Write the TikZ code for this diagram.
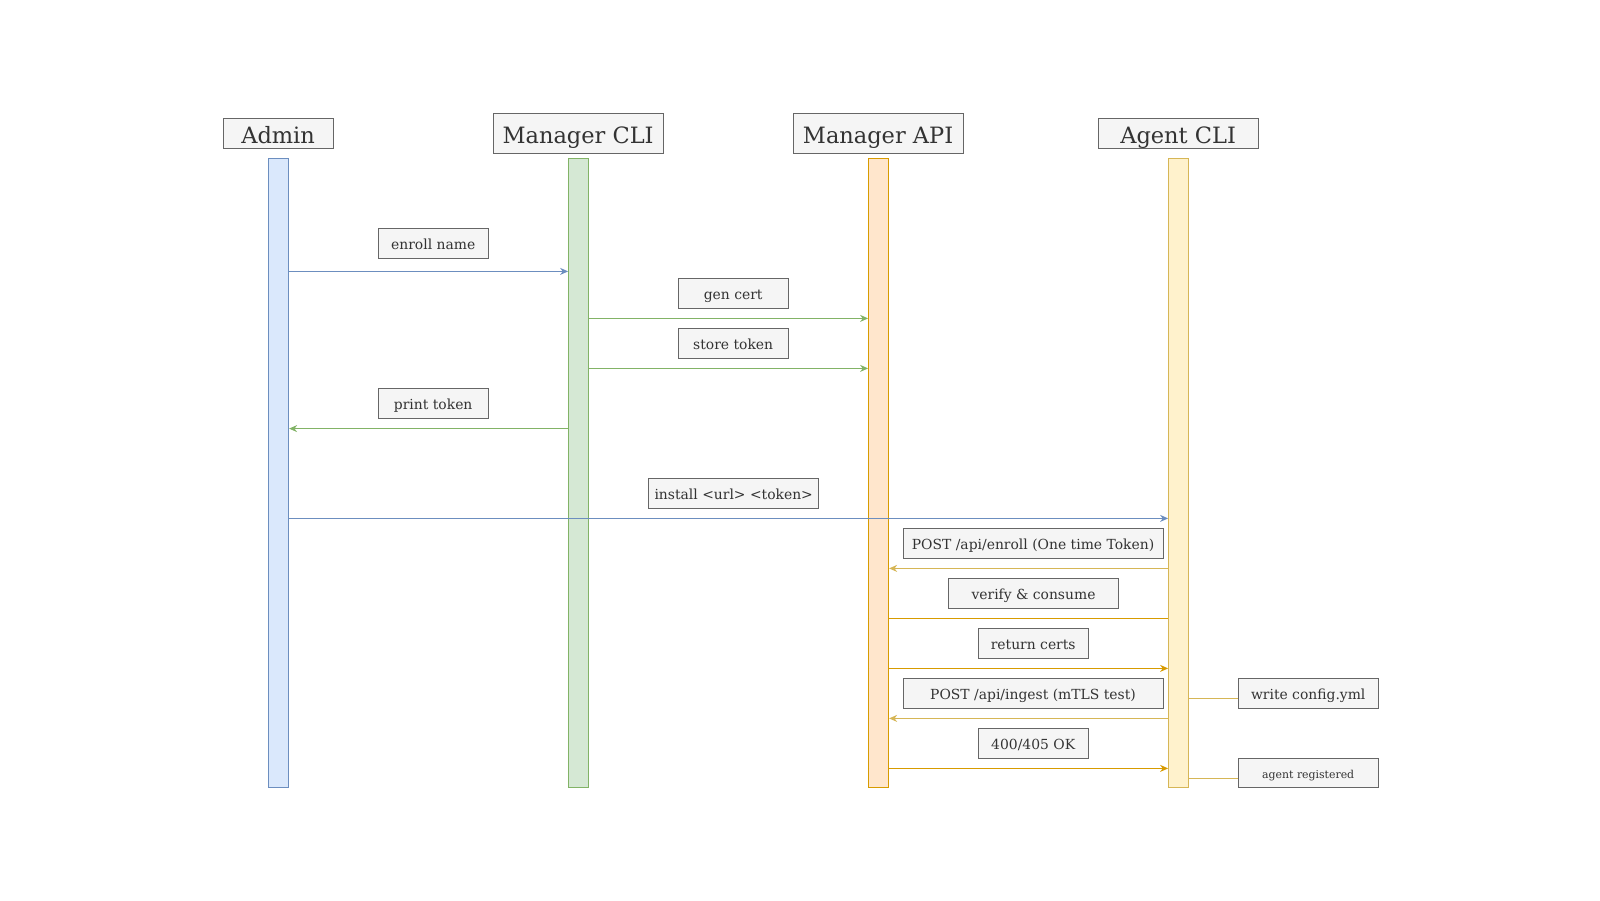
\documentclass[tikz,border=0pt]{standalone}
\usepackage{fontspec}
\setmainfont{DejaVu Serif}
\usetikzlibrary{arrows.meta, positioning}
\definecolor{bluefill}{HTML}{DAE8FC}
\definecolor{blueline}{HTML}{6C8EBF}
\definecolor{greenfill}{HTML}{D5E8D4}
\definecolor{greenline}{HTML}{82B366}
\definecolor{orangefill}{HTML}{FFE6CC}
\definecolor{orangeline}{HTML}{D79B00}
\definecolor{yellowfill}{HTML}{FFF2CC}
\definecolor{yellowline}{HTML}{D6B656}
\definecolor{boxfill}{HTML}{F5F5F5}
\definecolor{boxline}{HTML}{666666}
\definecolor{inktext}{HTML}{333333}
\tikzset{
  >=Stealth,
  head/.style={
    draw=boxline, fill=boxfill, text=inktext, line width=1pt, inner sep=0pt,
    text height=21pt, text depth=1pt,
    minimum width=#1, font=\fontsize{22.5}{27}\selectfont
  },
  lifebar/.style 2 args={
    draw=#2, fill=#1, line width=1pt, inner sep=0pt,
    minimum width=20pt, minimum height=629.6pt
  },
  msgbox/.style={
    draw=boxline, fill=boxfill, text=inktext, line width=1pt, inner sep=0pt,
    text height=13.5pt, text depth=1pt,
    minimum width=#1, minimum height=29.6pt, font=\fontsize{13.9}{17}\selectfont
  },
  msg/.style={draw=#1, line width=1pt, -{Stealth[length=8pt,width=7pt]}},
  plainline/.style={draw=#1, line width=1pt}
}
\begin{document}
\begin{tikzpicture}[x=1pt,y=1pt]
  \useasboundingbox[fill=white] (0,0) rectangle (1600,-900);
  % participants
  \node[head=110pt, minimum height=30pt] (admin) at (278.1,-133.2) {Admin};
  \node[head=170pt, minimum height=40pt] (mcli) at (578.1,-133.2) {Manager CLI};
  \node[head=170pt, minimum height=40pt] (mapi) at (878.1,-133.2) {Manager API};
  \node[head=160pt, minimum height=30pt] (acli) at (1178.1,-133.2) {Agent CLI};
  % lifelines
  \node[lifebar={bluefill}{blueline}] (adminbar) at (278.6,-473) {};
  \node[lifebar={greenfill}{greenline}] (mclibar) at (578.6,-473) {};
  \node[lifebar={orangefill}{orangeline}] (mapibar) at (878.6,-473) {};
  \node[lifebar={yellowfill}{yellowline}] (aclibar) at (1178.6,-473) {};
  % message rows
  \coordinate (m1) at (0,-271.4);
  \coordinate (m2) at (0,-318.4);
  \coordinate (m3) at (0,-368.4);
  \coordinate (m4) at (0,-428.6);
  \coordinate (m5) at (0,-518.4);
  \coordinate (m6) at (0,-568.4);
  \coordinate (m7) at (0,-618.4);
  \coordinate (m8) at (0,-668.4);
  \coordinate (m9) at (0,-718.4);
  \coordinate (m10) at (0,-768.4);
  \coordinate (n1) at (0,-698.2);
  \coordinate (n2) at (0,-778.4);
  % labels
  \node[msgbox=110pt] (enroll) at (433.2,-243.4) {enroll name};
  \node[msgbox=110pt] (gencert) at (733.2,-293.4) {gen cert};
  \node[msgbox=110pt] (store) at (733.2,-343.4) {store token};
  \node[msgbox=110pt] (print) at (433.2,-403.6) {print token};
  \node[msgbox=170pt] (install) at (733.7,-493.4) {install <url> <token>};
  \node[msgbox=260pt] (postenroll) at (1033,-543.4) {POST /api/enroll (One time Token)};
  \node[msgbox=170pt] (verify) at (1033.5,-593.4) {verify \& consume};
  \node[msgbox=110pt] (certs) at (1033.2,-643.4) {return certs};
  \node[msgbox=260pt] (ingest) at (1033,-693.4) {POST /api/ingest (mTLS test)};
  \node[msgbox=110pt] (okay) at (1033.2,-743.4) {400/405 OK};
  \node[msgbox=140pt] (config) at (1308.2,-693.4) {write config.yml};
  \node[msgbox=140pt, font=\fontsize{10.9}{13}\selectfont, text height=11pt] (registered) at (1308.2,-773) {agent registered};
  % arrows
  \draw[msg=blueline] (adminbar.east |- m1) -- (mclibar.west |- m1);
  \draw[msg=greenline] (mclibar.east |- m2) -- (mapibar.west |- m2);
  \draw[msg=greenline] (mclibar.east |- m3) -- (mapibar.west |- m3);
  \draw[msg=greenline] (mclibar.west |- m4) -- (adminbar.east |- m4);
  \draw[msg=blueline] (adminbar.east |- m5) -- (aclibar.west |- m5);
  \draw[msg=yellowline] (aclibar.west |- m6) -- (mapibar.east |- m6);
  \draw[plainline=orangeline] (mapibar.east |- m7) -- (aclibar.west |- m7);
  \draw[msg=orangeline] (mapibar.east |- m8) -- (aclibar.west |- m8);
  \draw[msg=yellowline] (aclibar.west |- m9) -- (mapibar.east |- m9);
  \draw[msg=orangeline] (mapibar.east |- m10) -- (aclibar.west |- m10);
  \draw[plainline=yellowline] (aclibar.east |- n1) -- (config.west |- n1);
  \draw[plainline=yellowline] (aclibar.east |- n2) -- (registered.west |- n2);
\end{tikzpicture}
\end{document}
